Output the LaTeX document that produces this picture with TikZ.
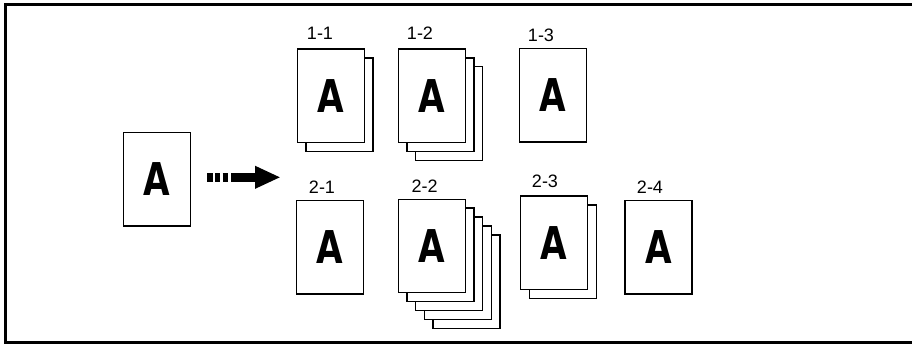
\documentclass[tikz,border=0pt]{standalone}
\usepackage{fontspec}
\setmainfont{Liberation Sans}
\newfontfamily\letterfont{DejaVu Sans}
\usetikzlibrary{arrows.meta}

\begin{document}
\begin{tikzpicture}
   [x=0.5pt, y=-0.5pt,
    sheet/.style={draw, fill=white, line width=0.7pt, inner sep=0pt,
                  minimum width=33.5pt, minimum height=46.75pt,
                  font=\letterfont\fontsize{22.6}{23}\selectfont\bfseries},
    tag/.style={font=\fontsize{9}{10}\selectfont, inner sep=0pt}]
   \useasboundingbox (0,0) rectangle (912,344);
   \draw[line width=1.5pt] (912,4.5) -- (5,4.5) -- (5,342.5) -- (912,342.5);

   % original
   \node[sheet] (src) at (157.2,179.4) {\scalebox{0.76}[1]{A}};
   \coordinate (tail) at (207.3,177.3);
   \coordinate (head) at (280.7,177.3);
   \draw[line width=4.65pt, dash pattern=on 2.7pt off 1.2pt on 2.5pt off 1.3pt on 2.4pt off 1.8pt on 40pt,
         -{Triangle[length=12.85pt, width=10.5pt]}] (tail) -- (head);

   % first row
   \node[sheet] (p11b) at (339.5,104.6) {};
   \node[sheet] (p11) at (330.8,95.7) {\scalebox{0.76}[1]{A}};
   \node[tag] (l11) at (320,33) {1-1};

   \foreach \k in {2,1}
      \node[sheet] (p12b\k) at (431.8+8.7*\k,95.7+8.9*\k) {};
   \node[sheet] (p12) at (431.8,95.7) {\scalebox{0.76}[1]{A}};
   \node[tag] (l12) at (420,33) {1-2};

   \node[sheet] (p13) at (552.8,95.4) {\scalebox{0.76}[1]{A}};
   \node[tag] (l13) at (541,35.5) {1-3};

   % second row
   \node[sheet] (p21) at (330.2,247.4) {\scalebox{0.76}[1]{A}};
   \node[tag] (l21) at (322,187.5) {2-1};

   \foreach \k in {4,3,2,1}
      \node[sheet] (p22b\k) at (431.8+8.7*\k,246+8.9*\k) {};
   \node[sheet] (p22) at (431.8,246) {\scalebox{0.76}[1]{A}};
   \node[tag] (l22) at (424.7,186) {2-2};

   \node[sheet] (p23b) at (562.9,251.6) {};
   \node[sheet] (p23) at (554.2,242.7) {\scalebox{0.76}[1]{A}};
   \node[tag] (l23) at (545,181) {2-3};

   \node[sheet] (p24) at (658.5,247.4) {\scalebox{0.76}[1]{A}};
   \node[tag] (l24) at (650,187) {2-4};
\end{tikzpicture}
\end{document}
